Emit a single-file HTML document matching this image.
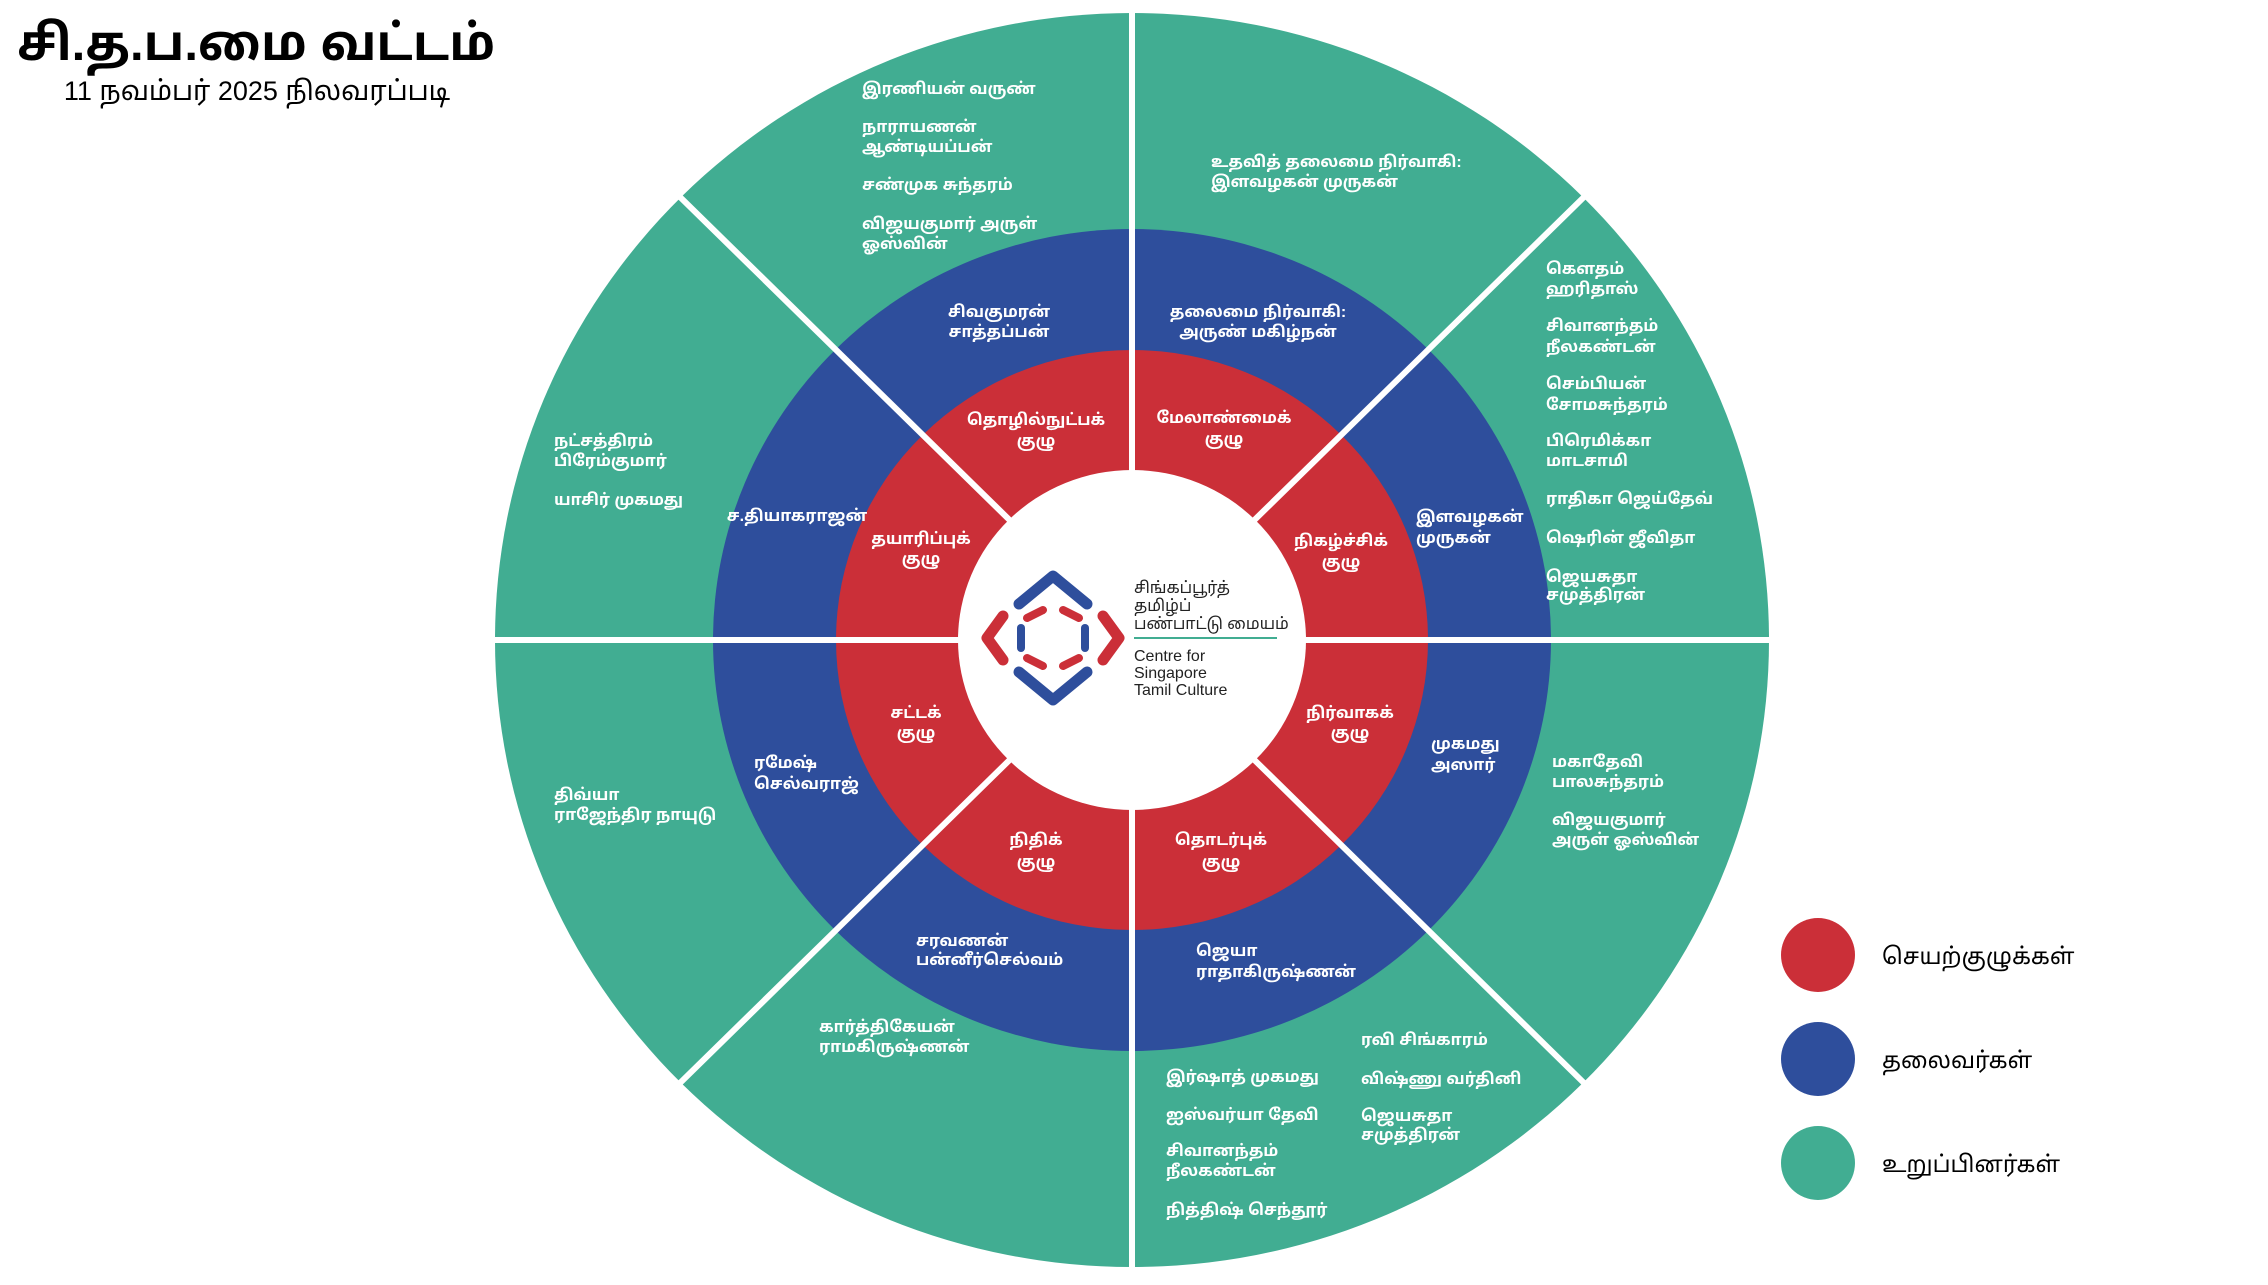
<!DOCTYPE html>
<html><head><meta charset="utf-8"><style>
html,body{margin:0;padding:0;background:#fff;}
svg text{font-family:"Liberation Sans","Noto Sans Tamil","Lohit Tamil",sans-serif;}
.w{fill:#fff;font-weight:bold;font-size:16px;}
.c{text-anchor:middle;}
</style></head><body>
<svg width="2268" height="1280" viewBox="0 0 2268 1280" xmlns="http://www.w3.org/2000/svg">
<rect width="2268" height="1280" fill="#fff"/>
<ellipse cx="1132" cy="640" rx="637" ry="627" fill="#41ad92"/>
<ellipse cx="1132" cy="640" rx="419" ry="411" fill="#2e4e9c"/>
<ellipse cx="1132" cy="640" rx="296" ry="290" fill="#cb2f38"/>
<g stroke="#fff" stroke-width="6">
<line x1="490" y1="640" x2="1774" y2="640"/>
<line x1="1132" y1="8" x2="1132" y2="1272"/>
<line x1="1132" y1="640" x2="680" y2="197"/>
<line x1="1132" y1="640" x2="1584" y2="197"/>
<line x1="1132" y1="640" x2="680" y2="1083"/>
<line x1="1132" y1="640" x2="1584" y2="1083"/>
</g>
<ellipse cx="1132" cy="640" rx="174" ry="170" fill="#fff"/>

<!-- logo -->
<g fill="none" stroke-width="11" stroke-linecap="round" stroke-linejoin="round" transform="translate(1053,638)">
<polyline points="-34,-34 0,-62 34,-34" stroke="#2e4e9c"/>
<polyline points="-34,34 0,62 34,34" stroke="#2e4e9c"/>
<polyline points="-50,-22 -66,0 -50,22" stroke="#cb2f38"/>
<polyline points="50,-22 66,0 50,22" stroke="#cb2f38"/>
<polyline points="-26,-20 -10,-28" stroke="#cb2f38" stroke-width="8"/>
<polyline points="26,-20 10,-28" stroke="#cb2f38" stroke-width="8"/>
<polyline points="-26,20 -10,28" stroke="#cb2f38" stroke-width="8"/>
<polyline points="26,20 10,28" stroke="#cb2f38" stroke-width="8"/>
<polyline points="-32,-10 -32,10" stroke="#2e4e9c" stroke-width="8"/>
<polyline points="32,-10 32,10" stroke="#2e4e9c" stroke-width="8"/>
</g>
<g font-size="16" fill="#222">
<text x="1134" y="593">சிங்கப்பூர்த்</text>
<text x="1134" y="611">தமிழ்ப்</text>
<text x="1134" y="629">பண்பாட்டு மையம்</text>
<text x="1134" y="661">Centre for</text>
<text x="1134" y="678">Singapore</text>
<text x="1134" y="695">Tamil Culture</text>
</g>
<line x1="1134" y1="638" x2="1277" y2="638" stroke="#41ad92" stroke-width="2"/>

<!-- title -->
<text x="17" y="60" font-size="49" font-weight="bold" fill="#000">சி.த.ப.மை வட்டம்</text>
<text x="257" y="100" font-size="27" fill="#000" text-anchor="middle">11 நவம்பர் 2025 நிலவரப்படி</text>

<!-- green -->
<g class="w">
<text x="862" y="94">இரணியன் வருண்</text>
<text x="862" y="132">நாராயணன்</text><text x="862" y="152">ஆண்டியப்பன்</text>
<text x="862" y="190">சண்முக சுந்தரம்</text>
<text x="862" y="229">விஜயகுமார் அருள்</text><text x="862" y="249">ஓஸ்வின்</text>
<text x="1211" y="167">உதவித் தலைமை நிர்வாகி:</text><text x="1211" y="187">இளவழகன் முருகன்</text>
<text x="1546" y="274">கௌதம்</text><text x="1546" y="294">ஹரிதாஸ்</text>
<text x="1546" y="331">சிவானந்தம்</text><text x="1546" y="352">நீலகண்டன்</text>
<text x="1546" y="389">செம்பியன்</text><text x="1546" y="410">சோமசுந்தரம்</text>
<text x="1546" y="446">பிரெமிக்கா</text><text x="1546" y="466">மாடசாமி</text>
<text x="1546" y="504">ராதிகா ஜெய்தேவ்</text>
<text x="1546" y="543">ஷெரின் ஜீவிதா</text>
<text x="1546" y="582">ஜெயசுதா</text><text x="1546" y="600">சமுத்திரன்</text>
<text x="554" y="446">நட்சத்திரம்</text><text x="554" y="466">பிரேம்குமார்</text>
<text x="554" y="505">யாசிர் முகமது</text>
<text x="554" y="800">திவ்யா</text><text x="554" y="820">ராஜேந்திர நாயுடு</text>
<text x="819" y="1032">கார்த்திகேயன்</text><text x="819" y="1052">ராமகிருஷ்ணன்</text>
<text x="1166" y="1082">இர்ஷாத் முகமது</text>
<text x="1166" y="1120">ஐஸ்வர்யா தேவி</text>
<text x="1166" y="1156">சிவானந்தம்</text><text x="1166" y="1176">நீலகண்டன்</text>
<text x="1166" y="1215">நித்திஷ் செந்தூர்</text>
<text x="1361" y="1045">ரவி சிங்காரம்</text>
<text x="1361" y="1084">விஷ்ணு வர்தினி</text>
<text x="1361" y="1121">ஜெயசுதா</text><text x="1361" y="1140">சமுத்திரன்</text>
<text x="1552" y="767">மகாதேவி</text><text x="1552" y="787">பாலசுந்தரம்</text>
<text x="1552" y="825">விஜயகுமார்</text><text x="1552" y="845">அருள் ஓஸ்வின்</text>
</g>
<!-- blue -->
<g class="w">
<text class="c" x="999" y="317">சிவகுமரன்</text><text class="c" x="999" y="337">சாத்தப்பன்</text>
<text class="c" x="1258" y="317">தலைமை நிர்வாகி:</text><text class="c" x="1258" y="337">அருண் மகிழ்நன்</text>
<text class="c" x="797" y="521">ச.தியாகராஜன்</text>
<text x="1416" y="522">இளவழகன்</text><text x="1416" y="543">முருகன்</text>
<text x="754" y="768">ரமேஷ்</text><text x="754" y="789">செல்வராஜ்</text>
<text x="1431" y="749">முகமது</text><text x="1431" y="770">அஸார்</text>
<text x="916" y="946">சரவணன்</text><text x="916" y="965">பன்னீர்செல்வம்</text>
<text x="1196" y="956">ஜெயா</text><text x="1196" y="977">ராதாகிருஷ்ணன்</text>
</g>
<!-- red -->
<g class="w c">
<text x="1036" y="425">தொழில்நுட்பக்</text><text x="1036" y="446">குழு</text>
<text x="1224" y="423">மேலாண்மைக்</text><text x="1224" y="444">குழு</text>
<text x="921" y="544">தயாரிப்புக்</text><text x="921" y="564">குழு</text>
<text x="1341" y="546">நிகழ்ச்சிக்</text><text x="1341" y="567">குழு</text>
<text x="916" y="718">சட்டக்</text><text x="916" y="738">குழு</text>
<text x="1350" y="718">நிர்வாகக்</text><text x="1350" y="738">குழு</text>
<text x="1036" y="845">நிதிக்</text><text x="1036" y="867">குழு</text>
<text x="1221" y="845">தொடர்புக்</text><text x="1221" y="867">குழு</text>
</g>

<!-- legend -->
<ellipse cx="1818" cy="955" rx="37" ry="37" fill="#cb2f38"/>
<ellipse cx="1818" cy="1059" rx="37" ry="37" fill="#2e4e9c"/>
<ellipse cx="1818" cy="1163" rx="37" ry="37" fill="#41ad92"/>
<g font-size="23" fill="#000">
<text x="1882" y="964">செயற்குழுக்கள்</text>
<text x="1882" y="1068">தலைவர்கள்</text>
<text x="1882" y="1172">உறுப்பினர்கள்</text>
</g>
</svg>
</body></html>
